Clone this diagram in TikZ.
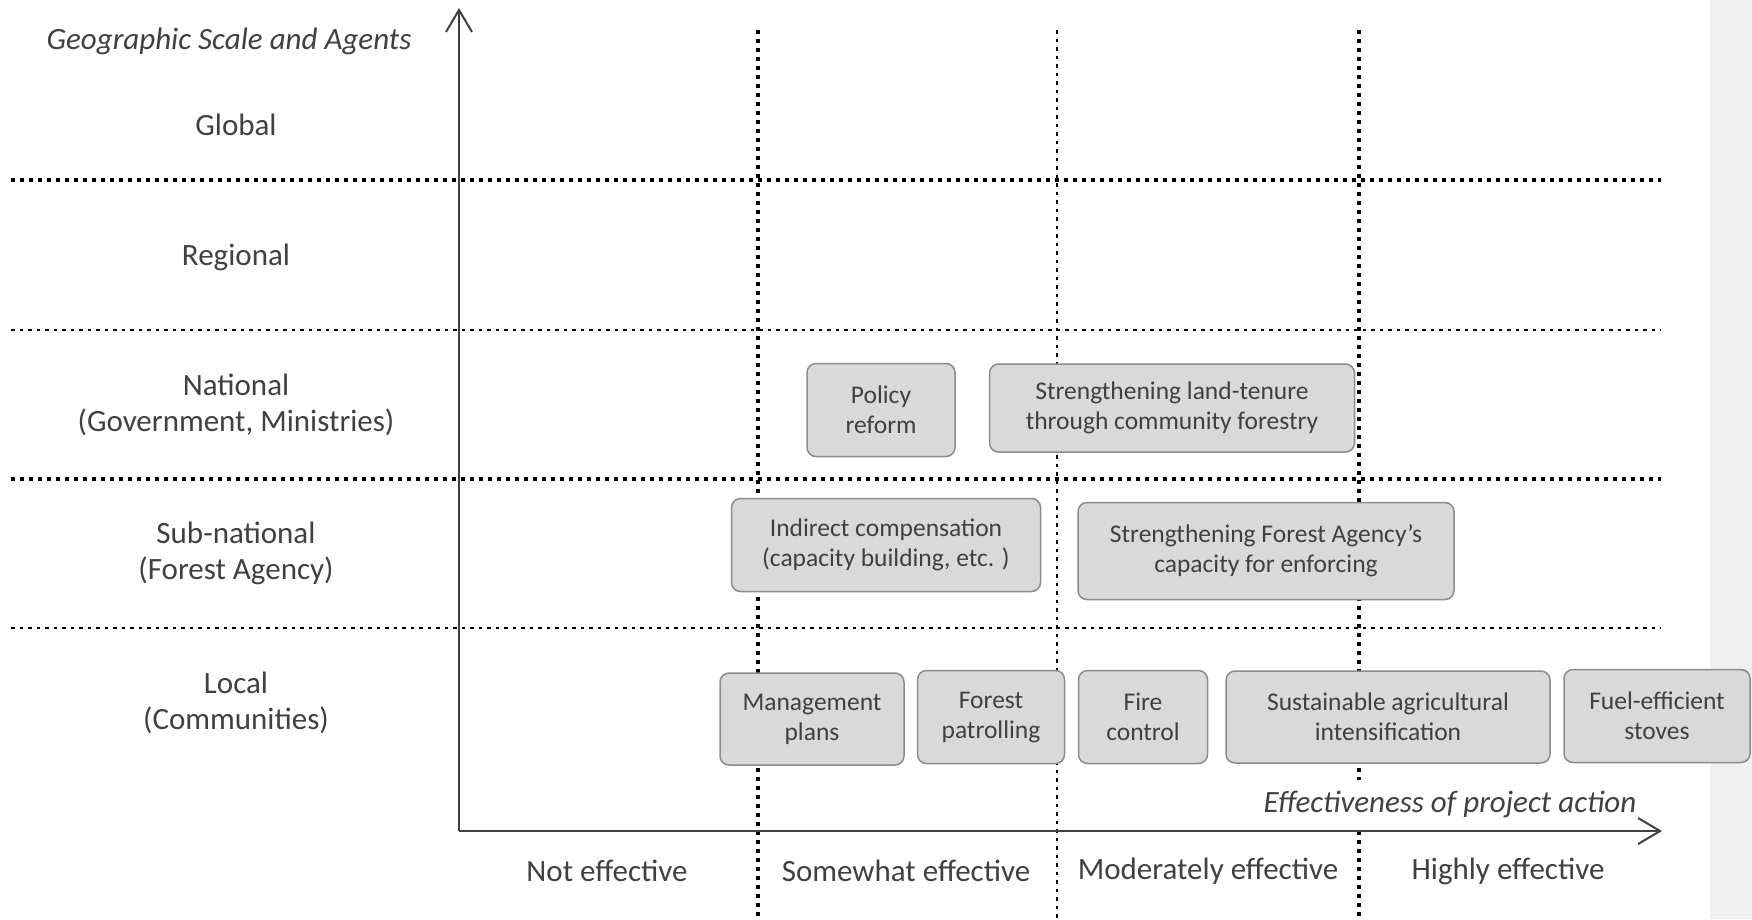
\documentclass[tikz,border=0pt]{standalone}
\usepackage{fontspec}
\setmainfont{Carlito}
\usetikzlibrary{arrows.meta,positioning}
\definecolor{txtgray}{HTML}{404040}
\definecolor{boxfill}{HTML}{D9D9D9}
\definecolor{boxline}{HTML}{8C8C8C}
\definecolor{stripgray}{HTML}{F0F0F0}

\begin{document}
\begin{tikzpicture}[x=1pt, y=-1pt,
    action/.style={draw=boxline, fill=boxfill, line width=1.5pt, rounded corners=9pt,
        align=center, text=txtgray, inner sep=0pt, font=\fontsize{25.5}{30}\selectfont},
    scalelbl/.style={align=center, text=txtgray, font=\fontsize{31}{36}\selectfont},
    axislbl/.style={text=txtgray, font=\fontsize{31}{34}\selectfont\itshape},
    boldsep/.style={line width=3.5pt, dash pattern=on 4pt off 5pt},
    thinsep/.style={line width=2pt, dash pattern=on 3.5pt off 5pt},
    axis/.style={line width=2pt, draw=txtgray, -{Straight Barb[length=22pt,width=26pt,line width=2pt]}}]

    \useasboundingbox (0,0) rectangle (1752,919);
    \fill[stripgray] (1710,0) rectangle (1752,919);

    % separators between scales and between effectiveness classes
    \foreach \y/\sty in {180/boldsep, 330/thinsep, 479/boldsep, 628/thinsep}
    \draw[\sty] (11,\y) -- (1661,\y);
    \foreach \x/\sty in {758/boldsep, 1057/thinsep, 1359/boldsep}
    \draw[\sty] (\x,30) -- (\x,919);

    % axes
    \coordinate (origin) at (459,831);
    \coordinate (ytop) at (459,8);
    \coordinate (xend) at (1662,831);
    \node[axislbl, fill=white, inner xsep=0pt, inner ysep=0pt, minimum height=48pt] (xname) at (1450,804) {Effectiveness of project action};
    \draw[axis] (origin) -- (ytop);
    \draw[axis] (origin) -- (xend);

    \node[axislbl] (yname) at (229,41) {Geographic Scale and Agents};

    % geographic scales
    \node[scalelbl] (global) at (236,125) {Global};
    \node[scalelbl] (regional) at (236,257) {Regional};
    \node[scalelbl] (national) at (236,405) {National\\(Government, Ministries)};
    \node[scalelbl] (subnational) at (236,553) {Sub-national\\(Forest Agency)};
    \node[scalelbl] (local) at (236,703) {Local\\(Communities)};

    % effectiveness classes
    \node[scalelbl] (noteff) at (607,871) {Not effective};
    \node[scalelbl] (someeff) at (906,871) {Somewhat effective};
    \node[scalelbl] (modeff) at (1208,871) {Moderately effective};
    \node[scalelbl] (higheff) at (1508,871) {Highly effective};

    % project actions
    \node[action, minimum width=148pt, minimum height=93pt] (policy) at (881,410) {Policy\\reform};
    \node[action, minimum width=365pt, minimum height=88pt] (tenure) at (1172,408) {Strengthening land-tenure\\through community forestry};
    \node[action, minimum width=309pt, minimum height=93pt] (indirect) at (886,545) {Indirect compensation\\(capacity building, etc. )};
    \node[action, minimum width=376pt, minimum height=97pt] (agency) at (1266,551) {Strengthening Forest Agency’s\\capacity for enforcing};
    \node[action, minimum width=184pt, minimum height=92pt] (mgmt) at (812,719) {Management\\plans};
    \node[action, minimum width=147pt, minimum height=93pt] (patrol) at (991,717) {Forest\\patrolling};
    \node[action, minimum width=129pt, minimum height=93pt] (fire) at (1143,717) {Fire\\control};
    \node[action, minimum width=324pt, minimum height=92pt] (agri) at (1388,717) {Sustainable agricultural\\intensification};
    \node[action, minimum width=186pt, minimum height=93pt] (stoves) at (1657,716) {Fuel-efficient\\stoves};

\end{tikzpicture}
\end{document}
